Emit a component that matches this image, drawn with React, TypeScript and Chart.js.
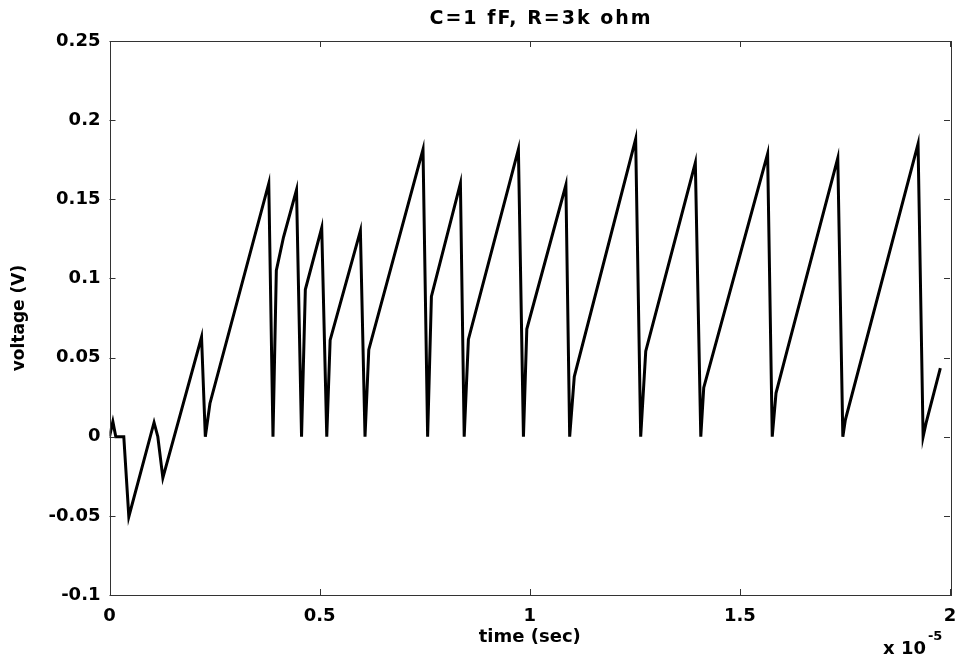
import React, { useEffect, useRef } from "react";
import { Chart, registerables } from "chart.js";

Chart.register(...registerables);

const chartTitle = "C=1 fF, R=3k ohm";
const xAxisTitle = "time (sec)";
const yAxisTitle = "voltage (V)";
const xExponentBase = "x 10";
const xExponent = "-5";

// time in units of 1e-5 s
const timeVals = [
  0, 0.008, 0.015, 0.034, 0.046, 0.106, 0.115, 0.127, 0.219, 0.228, 0.239,
  0.379, 0.389, 0.397, 0.414, 0.445, 0.457, 0.466, 0.505, 0.517, 0.525,
  0.597, 0.608, 0.617, 0.746, 0.757, 0.766, 0.835, 0.844, 0.854, 0.973,
  0.985, 0.993, 1.086, 1.095, 1.106, 1.252, 1.264, 1.276, 1.394, 1.407,
  1.414, 1.566, 1.577, 1.586, 1.615, 1.733, 1.745, 1.751, 1.924, 1.936,
  1.943, 1.977,
];
const voltVals = [
  0, 0.0095, 0, 0, -0.0505, 0.009, 0, -0.026, 0.063, 0, 0.021,
  0.16, 0, 0.105, 0.126, 0.156, 0, 0.093, 0.132, 0, 0.061,
  0.13, 0, 0.055, 0.1815, 0, 0.0886, 0.16, 0, 0.0615, 0.1815,
  0, 0.068, 0.159, 0, 0.038, 0.188, 0, 0.054, 0.173, 0,
  0.031, 0.1787, 0, 0.0276, 0.057, 0.176, 0, 0.0107, 0.185, 0,
  0.0086, 0.0434,
];

const xMin = 0;
const xMax = 2;
const xStep = 0.5;
const yMin = -0.1;
const yMax = 0.25;
const yStep = 0.05;

const FONT = "'DejaVu Sans', Arial, sans-serif";

const fmt = (v: number) => {
  if (Math.abs(v) < 1e-9) return "0";
  return String(Number(v.toFixed(4)));
};

const decorPlugin = {
  id: "matlabDecor",
  afterDraw(chart: any) {
    const ctx = chart.ctx;
    const { left, right, top, bottom } = chart.chartArea;
    const xs = chart.scales.x;
    const ys = chart.scales.y;
    ctx.save();
    ctx.strokeStyle = "#333";
    ctx.lineWidth = 1;
    ctx.strokeRect(Math.round(left) + 0.5, Math.round(top) + 0.5, Math.round(right - left), Math.round(bottom - top));
    const tl = 6;
    ctx.beginPath();
    xs.ticks.forEach((t: any) => {
      const px = Math.round(xs.getPixelForValue(t.value)) + 0.5;
      ctx.moveTo(px, bottom);
      ctx.lineTo(px, bottom - tl);
      ctx.moveTo(px, top);
      ctx.lineTo(px, top + tl);
    });
    ys.ticks.forEach((t: any) => {
      const py = Math.round(ys.getPixelForValue(t.value)) + 0.5;
      ctx.moveTo(left, py);
      ctx.lineTo(left + tl, py);
      ctx.moveTo(right, py);
      ctx.lineTo(right - tl, py);
    });
    ctx.stroke();

    ctx.fillStyle = "#000";
    ctx.textBaseline = "middle";
    ctx.textAlign = "center";
    ctx.font = `bold 19px ${FONT}`;
    try { (ctx as any).letterSpacing = "2px"; } catch (e) {}
    ctx.fillText(chartTitle, 541, 19);
    try { (ctx as any).letterSpacing = "0px"; } catch (e) {}

    ctx.textAlign = "left";
    ctx.font = `bold 18px ${FONT}`;
    ctx.fillText(xExponentBase, 883, 649);
    const w = ctx.measureText(xExponentBase).width;
    ctx.font = `bold 13px ${FONT}`;
    ctx.fillText(xExponent, 883 + w + 2, 637);
    ctx.restore();
  },
};

export default function App() {
  const ref = useRef<HTMLCanvasElement | null>(null);
  useEffect(() => {
    document.body.style.margin = "0";
    const canvas = ref.current!;
    const data = timeVals.map((t, i) => ({ x: t, y: voltVals[i] }));
    const chart = new Chart(canvas, {
      type: "line",
      data: {
        datasets: [
          {
            data,
            borderColor: "#000",
            borderWidth: 3,
            pointRadius: 0,
            tension: 0,
            fill: false,
          },
        ],
      },
      options: {
        animation: false,
        responsive: false,
        layout: { padding: { left: 0, right: 8, top: 41, bottom: 0 }, autoPadding: false },
        plugins: { legend: { display: false }, tooltip: { enabled: false }, title: { display: false } },
        scales: {
          x: {
            type: "linear",
            min: xMin,
            max: xMax,
            grid: { display: false, drawTicks: false },
            border: { display: false },
            ticks: {
              stepSize: xStep,
              color: "#000",
              padding: 11,
              maxRotation: 0,
              callback: (v: any) => fmt(Number(v)),
              font: { family: FONT, size: 18, weight: "bold" },
            },
            title: {
              display: true,
              text: xAxisTitle,
              color: "#000",
              font: { family: FONT, size: 18, weight: "bold", lineHeight: 1.2 },
              padding: { top: 0, bottom: 15 },
            },
            afterFit(scale: any) {
              scale.height = 68;
              scale.paddingLeft = 0;
              scale.paddingRight = 0;
            },
          },
          y: {
            type: "linear",
            min: yMin,
            max: yMax,
            grid: { display: false, drawTicks: false },
            border: { display: false },
            ticks: {
              stepSize: yStep,
              color: "#000",
              padding: 9,
              callback: (v: any) => fmt(Number(v)),
              font: { family: FONT, size: 18, weight: "bold" },
            },
            title: {
              display: true,
              text: yAxisTitle,
              color: "#000",
              font: { family: FONT, size: 17, weight: "bold", lineHeight: 1.2 },
              padding: { top: 9, bottom: 0 },
            },
            afterFit(scale: any) {
              scale.width = 109.5;
              scale.paddingTop = 0;
              scale.paddingBottom = 0;
            },
          },
        },
      },
      plugins: [decorPlugin],
    });
    return () => chart.destroy();
  }, []);
  return (
    <div style={{ position: "absolute", left: 0, top: 0, width: 958, height: 663, background: "#fff" }}>
      <canvas ref={ref} width={958} height={663} />
    </div>
  );
}
